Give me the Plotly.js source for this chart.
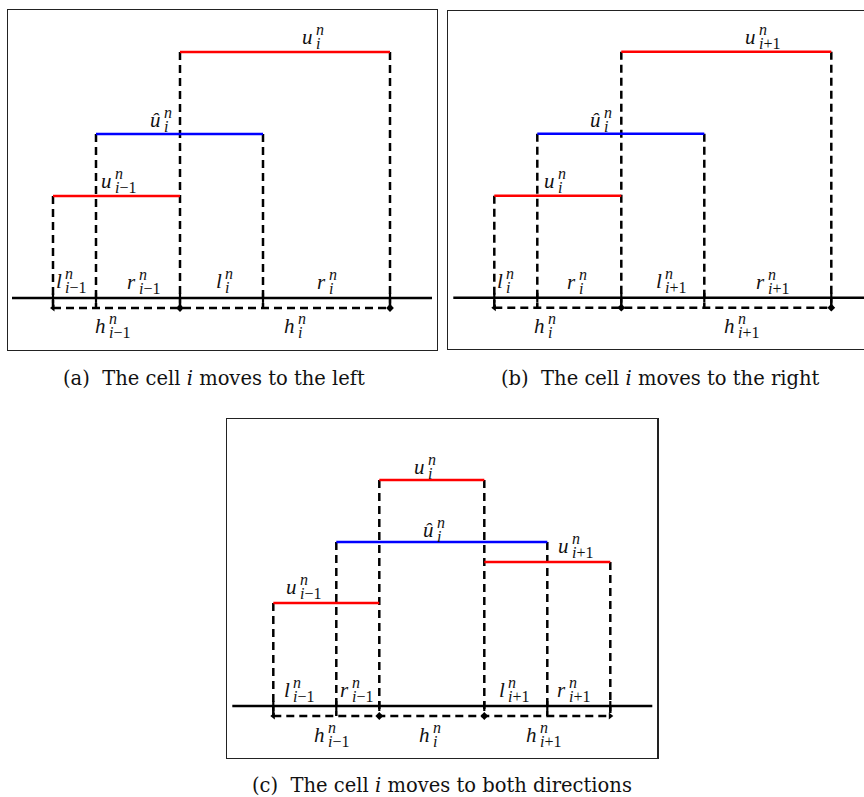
<!DOCTYPE html>
<html><head><meta charset="utf-8">
<script src="https://cdn.plot.ly/plotly-3.0.1.min.js"></script>
<style>html,body{margin:0;padding:0;background:#fff}</style>
</head><body><div id="chart" style="width:864px;height:797px"></div>
<script>
// ---------- panel (a): the cell i moves to the left ----------
const aRedX0 = [0, 127], aRedX1 = [127, 337], aRedY = [102, 246];
const aBlueX0 = [43], aBlueX1 = [210], aBlueY = [164];
const aEdgeX = [0, 43, 127, 210, 337], aEdgeTop = [102, 164, 246, 164, 246];
const aBaseX = [-41, 379];
const aArrowX = [0, 127, 337], aArrowSym = ['triangle-left', 'diamond', 'diamond'];
const aLabBase = ['u', 'û', 'u', 'l', 'r', 'l', 'r', 'h', 'h'];
const aLabSub = ['i', 'i', 'i−1', 'i−1', 'i−1', 'i', 'i', 'i−1', 'i'];
const aLabX = [261, 109, 60, 10, 84, 170, 274, 54, 243];
const aLabY = [254, 171, 110, 10, 9, 10, 9, -35, -35];

// ---------- panel (b): the cell i moves to the right ----------
const bRedX0 = [0, 127], bRedX1 = [127, 337], bRedY = [102, 246];
const bBlueX0 = [43], bBlueX1 = [210], bBlueY = [164];
const bEdgeX = [0, 43, 127, 210, 337], bEdgeTop = [102, 164, 246, 164, 246];
const bBaseX = [-41, 380];
const bArrowX = [0, 127, 337], bArrowSym = ['triangle-left', 'diamond', 'diamond'];
const bLabBase = ['u', 'û', 'u', 'l', 'r', 'l', 'r', 'h', 'h'];
const bLabSub = ['i+1', 'i', 'i', 'i', 'i', 'i+1', 'i+1', 'i', 'i+1'];
const bLabX = [263, 108, 62, 10, 83, 169, 272, 52, 242];
const bLabY = [254, 171, 110, 10, 9, 10, 9, -35, -35];

// ---------- panel (c): the cell i moves to both directions ----------
const cRedX0 = [0, 106, 211], cRedX1 = [106, 211, 337], cRedY = [103, 226, 144];
const cBlueX0 = [63], cBlueX1 = [274], cBlueY = [164];
const cEdgeX = [0, 63, 106, 211, 274, 337], cEdgeTop = [103, 164, 226, 226, 164, 144];
const cBaseX = [-41, 379];
const cArrowX = [0, 106, 211, 337], cArrowSym = ['triangle-left', 'diamond', 'diamond', 'triangle-right'];
const cLabBase = ['u', 'û', 'u', 'u', 'l', 'r', 'l', 'r', 'h', 'h', 'h'];
const cLabSub = ['i', 'i', 'i+1', 'i−1', 'i−1', 'i−1', 'i+1', 'i+1', 'i−1', 'i', 'i+1'];
const cLabX = [153, 162, 297, 25, 18, 77, 233, 294, 53, 158, 265];
const cLabY = [232, 169, 153, 112, 9, 9, 9, 9, -36, -36, -36];

const LAB_SUP = 'n';
const H_LEVEL = -10;   // level of the dashed h-arrows below the axis
const captions = ['(a)&nbsp;&nbsp;The cell <i>i</i> moves to the left',
                  '(b)&nbsp;&nbsp;The cell <i>i</i> moves to the right',
                  '(c)&nbsp;&nbsp;The cell <i>i</i> moves to both directions'];

// ---------- drawing ----------
const RED = '#ff0000', BLUE = '#0000ff', BLACK = '#000000';
const SERIF = "'Liberation Serif', 'DejaVu Serif', serif";
const CAPSERIF = "'DejaVu Serif', 'Liberation Serif', serif";
const BASE_FS = 21, SCRIPT_FS = 16, CAP_FS = 19.5;
const MID = 0.3375;    // (ascent - descent)/2 for Liberation Serif
const CAP_MID = 0.346; // same for DejaVu Serif
const W = 864, H = 797;

function segs(x0, x1, y) {
  const xs = [], ys = [];
  for (let k = 0; k < x0.length; k++) { xs.push(x0[k], x1[k], null); ys.push(y[k], y[k], null); }
  return {xs, ys};
}
function verts(ex, top) {
  const xs = [], ys = [];
  for (let k = 0; k < ex.length; k++) { xs.push(ex[k], ex[k], null); ys.push(top[k], H_LEVEL, null); }
  return {xs, ys};
}
function fmtSub(s) { return '<i>i</i>' + s.slice(1); }

const traces = [], annotations = [];
function panel(ax, redX0, redX1, redY, blueX0, blueX1, blueY, edgeX, edgeTop, baseX, arrowX, arrowSym,
               labBase, labSub, labX, labY) {
  const xa = 'x' + ax, ya = 'y' + ax;
  const v = verts(edgeX, edgeTop);
  traces.push({type: 'scatter', mode: 'lines', xaxis: xa, yaxis: ya, x: v.xs, y: v.ys,
    line: {color: BLACK, width: 2.5, dash: '8px,5px'}, hoverinfo: 'skip'});
  traces.push({type: 'scatter', mode: 'lines', xaxis: xa, yaxis: ya, x: baseX, y: [0, 0],
    line: {color: BLACK, width: 2.4}, hoverinfo: 'skip'});
  traces.push({type: 'scatter', mode: 'lines', xaxis: xa, yaxis: ya,
    x: [edgeX[0], edgeX[edgeX.length - 1]], y: [H_LEVEL, H_LEVEL],
    line: {color: BLACK, width: 2.5, dash: '8px,5px'}, hoverinfo: 'skip'});
  traces.push({type: 'scatter', mode: 'markers', xaxis: xa, yaxis: ya, x: edgeX, y: edgeX.map(() => 0),
    marker: {symbol: 'line-ns-open', size: 7, color: BLACK, line: {color: BLACK, width: 2.2}}, hoverinfo: 'skip'});
  traces.push({type: 'scatter', mode: 'markers', xaxis: xa, yaxis: ya, x: arrowX, y: arrowX.map(() => H_LEVEL),
    marker: {symbol: arrowSym, size: 6, color: BLACK}, hoverinfo: 'skip'});
  const r = segs(redX0, redX1, redY);
  traces.push({type: 'scatter', mode: 'lines', xaxis: xa, yaxis: ya, x: r.xs, y: r.ys,
    line: {color: RED, width: 2.6}, hoverinfo: 'skip'});
  const b = segs(blueX0, blueX1, blueY);
  traces.push({type: 'scatter', mode: 'lines', xaxis: xa, yaxis: ya, x: b.xs, y: b.ys,
    line: {color: BLUE, width: 2.6}, hoverinfo: 'skip'});
  for (let k = 0; k < labBase.length; k++) {
    annotations.push({xref: xa, yref: ya, x: labX[k], y: labY[k], text: '<i>' + labBase[k] + '</i>',
      xanchor: 'right', yanchor: 'middle', xshift: 0, yshift: MID * BASE_FS, showarrow: false,
      borderpad: 0, font: {family: SERIF, size: BASE_FS, color: '#111'}});
    annotations.push({xref: xa, yref: ya, x: labX[k], y: labY[k], text: '<i>' + LAB_SUP + '</i>',
      xanchor: 'left', yanchor: 'middle', xshift: 1, yshift: 9 + MID * SCRIPT_FS, showarrow: false,
      borderpad: 0, font: {family: SERIF, size: SCRIPT_FS, color: '#111'}});
    annotations.push({xref: xa, yref: ya, x: labX[k], y: labY[k], text: fmtSub(labSub[k]),
      xanchor: 'left', yanchor: 'middle', xshift: 1, yshift: -5 + MID * SCRIPT_FS, showarrow: false,
      borderpad: 0, font: {family: SERIF, size: SCRIPT_FS, color: '#111'}});
  }
}
panel('', aRedX0, aRedX1, aRedY, aBlueX0, aBlueX1, aBlueY, aEdgeX, aEdgeTop, aBaseX, aArrowX, aArrowSym,
      aLabBase, aLabSub, aLabX, aLabY);
panel('2', bRedX0, bRedX1, bRedY, bBlueX0, bBlueX1, bBlueY, bEdgeX, bEdgeTop, bBaseX, bArrowX, bArrowSym,
      bLabBase, bLabSub, bLabX, bLabY);
panel('3', cRedX0, cRedX1, cRedY, cBlueX0, cBlueX1, cBlueY, cEdgeX, cEdgeTop, cBaseX, cArrowX, cArrowSym,
      cLabBase, cLabSub, cLabX, cLabY);

// captions (paper coords from pixel centre / baseline)
const capPos = [[214, 385], [660, 385], [442, 792]];
captions.forEach((t, k) => {
  annotations.push({xref: 'paper', yref: 'paper', x: capPos[k][0] / W, y: 1 - capPos[k][1] / H,
    text: t, xanchor: 'center', yanchor: 'middle', yshift: CAP_MID * CAP_FS, showarrow: false,
    font: {family: CAPSERIF, size: CAP_FS, color: '#111'}});
});

const ax = {showgrid: false, zeroline: false, showticklabels: false, ticks: '', showline: true,
            linecolor: '#222', linewidth: 1.3, mirror: true, fixedrange: true};
const layout = {
  width: W, height: H, margin: {l: 0, r: 0, t: 0, b: 0, pad: 0}, showlegend: false,
  paper_bgcolor: '#fff', plot_bgcolor: 'rgba(0,0,0,0)', hovermode: false,
  font: {family: SERIF},
  xaxis:  Object.assign({}, ax, {domain: [8 / W, 437 / W], range: [-45, 384], anchor: 'y'}),
  yaxis:  Object.assign({}, ax, {domain: [1 - 350 / H, 1 - 10 / H], range: [-52, 288], anchor: 'x'}),
  xaxis2: Object.assign({}, ax, {domain: [448 / W, 1], range: [-46.3, 369.7], anchor: 'y2'}),
  yaxis2: Object.assign({}, ax, {domain: [1 - 349 / H, 1 - 11 / H], range: [-51.3, 286.7], anchor: 'x2', mirror: false}),
  xaxis3: Object.assign({}, ax, {domain: [227.3 / W, 657.3 / W], range: [-46, 384], anchor: 'y3'}),
  yaxis3: Object.assign({}, ax, {domain: [1 - 757.7 / H, 1 - 419.3 / H], range: [-51.7, 286.7], anchor: 'x3'}),
  annotations: annotations
};
Plotly.newPlot('chart', traces, layout, {staticPlot: true, displayModeBar: false});
</script></body></html>
